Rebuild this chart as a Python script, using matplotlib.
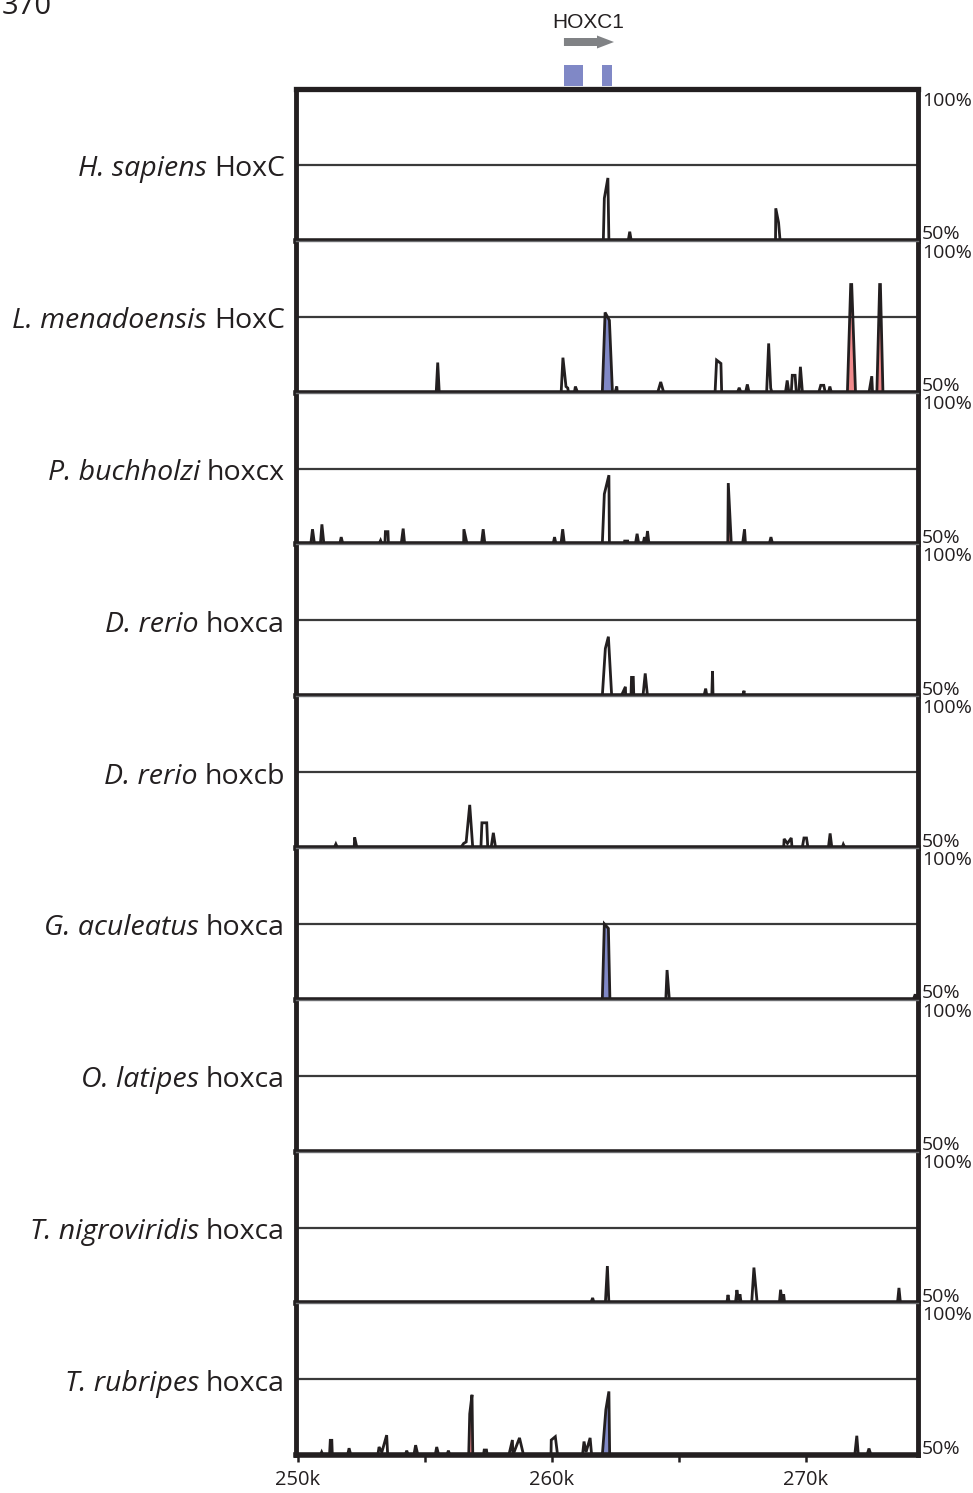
import matplotlib.pyplot as plt

plt.rcParams['font.family'] = ['Open Sans', 'DejaVu Sans']

W, H = 973, 1493
INK = '#231f20'
EXON_BLUE = '#8088c6'
CNS_RED = '#f08a8c'
ARROW_GREY = '#808285'

# window shown, in kb
x_range = (249.92, 274.41)

genus = ['H. sapiens', 'L. menadoensis', 'P. buchholzi', 'D. rerio', 'D. rerio',
         'G. aculeatus', 'O. latipes', 'T. nigroviridis', 'T. rubripes']
cluster = ['HoxC', 'HoxC', 'hoxcx', 'hoxca', 'hoxcb',
           'hoxca', 'hoxca', 'hoxca', 'hoxca']

# HOXC1 exons (kb)
exons = [(260.47, 261.22), (261.97, 262.38)]
gene_label = 'HOXC1'

# conservation curves: (position kb, % identity), clipped at 50%
hsap = [(262.02, 50), (262.06, 64), (262.20, 70.7), (262.24, 50),
        (263.00, 50), (263.06, 53), (263.12, 50),
        (268.80, 50), (268.81, 60.7), (268.92, 56), (268.98, 50)]
lmen = [(255.44, 50), (255.50, 59.9), (255.56, 50),
        (260.36, 50), (260.43, 61.5), (260.55, 52), (260.62, 51.5), (260.65, 50),
        (260.88, 50), (260.92, 52), (261.01, 50),
        (261.98, 50), (262.09, 76.4), (262.26, 73.8), (262.38, 50),
        (262.48, 50), (262.55, 52), (262.57, 50),
        (264.16, 50), (264.28, 53.5), (264.40, 50),
        (266.42, 50), (266.48, 60.7), (266.65, 59.6), (266.68, 50),
        (267.30, 50), (267.37, 51.6), (267.44, 50),
        (267.62, 50), (267.69, 52.7), (267.76, 50),
        (268.45, 50), (268.53, 66.2), (268.61, 51.5), (268.66, 50),
        (269.19, 50), (269.26, 54), (269.33, 50),
        (269.42, 50), (269.46, 55.7), (269.57, 55.7), (269.62, 50),
        (269.72, 50), (269.78, 58.5), (269.86, 50),
        (270.50, 50), (270.58, 52.4), (270.70, 52.4), (270.76, 50),
        (270.88, 50), (270.94, 52), (271.00, 50),
        (271.63, 50), (271.76, 85.6), (271.80, 85.6), (271.95, 50),
        (272.48, 50), (272.59, 55.4), (272.62, 50),
        (272.79, 50), (272.90, 85.6), (272.93, 85.6), (273.03, 50)]
pbuc = [(250.50, 50), (250.57, 55), (250.65, 50),
        (250.88, 50), (250.94, 56.6), (251.02, 50),
        (251.64, 50), (251.70, 52.4), (251.77, 50),
        (253.18, 50), (253.25, 51.3), (253.31, 50),
        (253.42, 50), (253.44, 54.2), (253.54, 54.2), (253.56, 50),
        (254.06, 50), (254.14, 55.2), (254.20, 50),
        (256.52, 50), (256.53, 55), (256.66, 50),
        (257.22, 50), (257.29, 55), (257.36, 50),
        (260.04, 50), (260.10, 52.4), (260.16, 50),
        (260.35, 50), (260.42, 55), (260.49, 50),
        (261.98, 50), (262.06, 66.6), (262.24, 72.8), (262.26, 50),
        (262.84, 50), (262.86, 51.1), (262.98, 51.1), (263.00, 50),
        (263.28, 50), (263.35, 53.5), (263.42, 50),
        (263.58, 50), (263.64, 52.4), (263.70, 50), (263.76, 54.4), (263.82, 50),
        (266.92, 50), (266.94, 70.2), (267.06, 50),
        (267.50, 50), (267.58, 55), (267.62, 50),
        (268.55, 50), (268.62, 52.4), (268.69, 50)]
drer_a = [(261.98, 50), (262.10, 65.7), (262.22, 69.6), (262.35, 50),
          (262.72, 50), (262.89, 53.1), (262.90, 50),
          (263.11, 50), (263.13, 56.2), (263.20, 56.2), (263.22, 50),
          (263.58, 50), (263.67, 57.5), (263.76, 50),
          (265.98, 50), (266.05, 52.5), (266.10, 50),
          (266.29, 50), (266.32, 58.3), (266.34, 50),
          (267.50, 50), (267.56, 51.8), (267.58, 50)]
drer_b = [(251.42, 50), (251.49, 51.3), (251.56, 50),
          (252.21, 50), (252.23, 53.5), (252.32, 50),
          (256.40, 50), (256.52, 51.5), (256.62, 52), (256.76, 64.2), (256.88, 50),
          (257.20, 50), (257.24, 58.3), (257.43, 58.3), (257.47, 50),
          (257.60, 50), (257.69, 55), (257.78, 50),
          (269.12, 50), (269.14, 53), (269.27, 51.5), (269.42, 53.3), (269.45, 50),
          (269.85, 50), (269.92, 53.3), (270.02, 53.3), (270.08, 50),
          (270.88, 50), (270.95, 54.8), (271.02, 50),
          (271.42, 50), (271.47, 51.2), (271.54, 50)]
gacu = [(261.98, 50), (262.06, 75), (262.22, 73.5), (262.28, 50),
        (264.48, 50), (264.53, 59.8), (264.62, 50),
        (274.22, 50), (274.30, 51.8), (274.36, 50)]
olat = []
tnig = [(261.52, 50), (261.60, 51.8), (261.66, 50),
        (262.10, 50), (262.18, 62.3), (262.24, 50),
        (266.88, 50), (266.93, 52.8), (266.98, 50),
        (267.22, 50), (267.28, 54.4), (267.34, 51), (267.40, 53), (267.45, 50),
        (267.86, 50), (267.95, 61.8), (268.08, 50),
        (268.95, 50), (269.00, 54.5), (269.06, 50), (269.12, 53), (269.16, 50),
        (273.60, 50), (273.66, 55.1), (273.72, 50)]
trub = [(250.88, 50), (250.93, 51), (250.98, 50),
        (251.24, 50), (251.27, 54.9), (251.33, 54.9), (251.35, 50),
        (251.95, 50), (252.01, 52.3), (252.08, 50),
        (253.14, 50), (253.19, 52.7), (253.30, 51), (253.49, 56.6), (253.53, 50),
        (254.22, 50), (254.28, 51.5), (254.34, 50),
        (254.56, 50), (254.63, 53.3), (254.72, 50),
        (255.40, 50), (255.46, 52.7), (255.54, 50),
        (255.86, 50), (255.92, 51.5), (255.98, 50),
        (256.72, 50), (256.76, 63.6), (256.85, 69.9), (256.88, 50),
        (257.30, 50), (257.33, 51.7), (257.42, 51.7), (257.45, 50),
        (258.30, 50), (258.44, 55.0), (258.46, 50), (258.72, 55.7), (258.88, 50),
        (259.96, 50), (259.97, 55), (260.13, 56.1), (260.22, 50),
        (261.20, 50), (261.26, 54.5), (261.34, 51), (261.50, 55.7), (261.56, 50),
        (261.98, 50), (262.12, 65), (262.24, 71), (262.27, 50),
        (271.92, 50), (272.00, 56.4), (272.06, 50),
        (272.40, 50), (272.48, 52.2), (272.56, 50)]
curves = [hsap, lmen, pbuc, drer_a, drer_b, gacu, olat, tnig, trub]

# shaded conserved elements: (start kb, end kb, kind)
hsap_fill = []
lmen_fill = [(261.95, 262.40, 'exon'), (271.60, 271.97, 'cns'), (272.76, 273.05, 'cns')]
pbuc_fill = [(266.90, 267.08, 'cns')]
drer_a_fill = []
drer_b_fill = []
gacu_fill = [(261.95, 262.40, 'exon')]
olat_fill = []
tnig_fill = []
trub_fill = [(256.70, 256.90, 'cns'), (261.95, 262.40, 'exon')]
fills = [hsap_fill, lmen_fill, pbuc_fill, drer_a_fill, drer_b_fill,
         gacu_fill, olat_fill, tnig_fill, trub_fill]
fill_colors = {'exon': EXON_BLUE, 'cns': CNS_RED}

major_ticks = [250, 260, 270]
major_labels = ['250k', '260k', '270k']
minor_ticks = [255, 265]

fig = plt.figure(figsize=(W / 100, H / 100), dpi=100)

left_px, right_px = 296, 918
top_px, panel_px = 89, 151.8

# gene track above the panels
gax = fig.add_axes([left_px / W, 1 - top_px / H, (right_px - left_px) / W, top_px / H])
gax.set_xlim(*x_range)
gax.set_ylim(top_px, 0)
gax.axis('off')
gax.broken_barh([(s, e - s) for s, e in exons], (65, 21), color=EXON_BLUE, lw=0)
gene_start, gene_end = exons[0][0], exons[-1][1]
gax.annotate('', xy=(gene_end + 0.06, 42), xytext=(gene_start, 42),
             arrowprops=dict(arrowstyle='simple,head_length=0.85,head_width=0.65,tail_width=0.4',
                             mutation_scale=14.4, color=ARROW_GREY, lw=0,
                             shrinkA=0, shrinkB=0))
gax.text((gene_start + gene_end) / 2, 28, gene_label, ha='center', va='baseline',
         family='Liberation Sans', fontsize=15, color=INK)

n = len(curves)
for i in range(n):
    bottom_px = top_px + (i + 1) * panel_px
    ax = fig.add_axes([left_px / W, 1 - bottom_px / H, (right_px - left_px) / W, panel_px / H])
    ax.set_xlim(*x_range)
    ax.set_ylim(50, 100)

    pts = curves[i]
    x = [x_range[0]] + [p[0] for p in pts] + [x_range[1]]
    y = [50] + [p[1] for p in pts] + [50]

    for x0, x1, kind in fills[i]:
        mask = [x0 <= v <= x1 for v in x]
        ax.fill_between(x, 50, y, where=mask, color=fill_colors[kind], lw=0, zorder=1)
    ax.plot(x, y, color=INK, lw=2.0, solid_joinstyle='miter', zorder=2)
    ax.axhline(75, color='#3a3a3a', lw=1.6, zorder=1.5)

    for side in ('left', 'right'):
        ax.spines[side].set_linewidth(3.5)
        ax.spines[side].set_color(INK)
    ax.spines['bottom'].set_linewidth(4.0)
    ax.spines['bottom'].set_color(INK)
    if i == 0:
        ax.spines['top'].set_linewidth(3.8)
        ax.spines['top'].set_color(INK)
    else:
        ax.spines['top'].set_linewidth(1.0)
        ax.spines['top'].set_color('#6d6e71')

    ax.set_yticks([])
    if i == n - 1:
        ax.set_xticks(major_ticks)
        ax.set_xticklabels(major_labels)
        ax.set_xticks(minor_ticks, minor=True)
        ax.tick_params(axis='x', which='both', direction='out', length=5, width=1.8,
                       color=INK, labelsize=14.5, labelcolor=INK, pad=6)
    else:
        ax.set_xticks([])

    ax.annotate('100%', xy=(1, 1), xycoords='axes fraction', xytext=(3, -2),
                textcoords='offset points', ha='left', va='top', fontsize=14, color=INK)
    ax.annotate('50%', xy=(1, 0), xycoords='axes fraction', xytext=(3, 1),
                textcoords='offset points', ha='left', va='baseline', fontsize=14, color=INK)

    # species label: italic binomial followed by the cluster name
    gene_txt = ax.annotate(cluster[i], xy=(0, 75), xycoords=('axes fraction', 'data'),
                           xytext=(-8, -8.3), textcoords='offset points',
                           ha='right', va='baseline', fontsize=20.5, color=INK)
    ax.annotate(genus[i], xy=(0, 0), xycoords=gene_txt, xytext=(-5, 0),
                textcoords='offset points', ha='right', va='bottom',
                fontsize=20.5, style='italic', color=INK)

fig.text(2 / W, 1 - 14 / H, '370', fontsize=21, ha='left', va='baseline', color=INK)

fig.savefig('out.png', dpi=100)
